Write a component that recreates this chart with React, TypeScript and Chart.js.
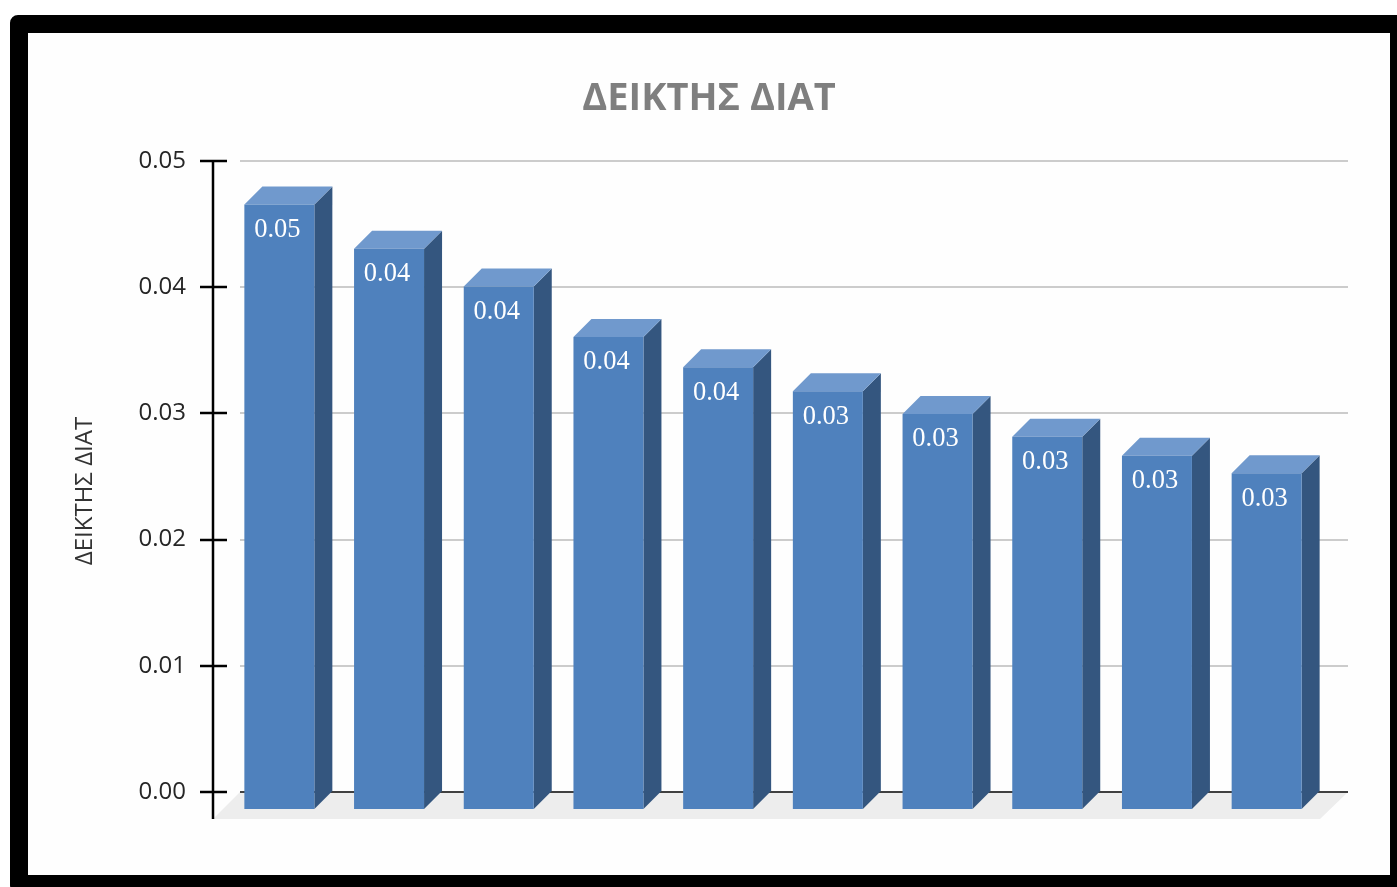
import React, { useEffect, useRef } from "react";
import { Chart, registerables } from "chart.js";

Chart.register(...registerables);

const categories = ["1", "2", "3", "4", "5", "6", "7", "8", "9", "10"];
const indexValues = [0.0479, 0.0444, 0.0414, 0.0374, 0.035, 0.0331, 0.0313, 0.0295, 0.028, 0.0266];
const tickValues = [0, 0.01, 0.02, 0.03, 0.04, 0.05];
const chartTitle = "ΔΕΙΚΤΗΣ ΔΙΑΤ";
const axisTitle = "ΔΕΙΚΤΗΣ ΔΙΑΤ";

const DEPTH = 18;
const SHIFT = 17;
const FONT = "'Open Sans', sans-serif";

const bars3d = {
  id: "bars3d",
  beforeDatasetsDraw(chart: any) {
    const { ctx } = chart;
    const y = chart.scales.y;
    const zero = y.getPixelForValue(0);
    ctx.save();
    // floor
    ctx.fillStyle = "#EDEDED";
    ctx.beginPath();
    ctx.moveTo(213, zero + 27);
    ctx.lineTo(1320, zero + 27);
    ctx.lineTo(1348, zero);
    ctx.lineTo(240, zero);
    ctx.closePath();
    ctx.fill();
    // wall grid lines
    tickValues.forEach((v) => {
      const py = Math.round(y.getPixelForValue(v));
      ctx.strokeStyle = v === 0 ? "#404040" : "#CCCCCC";
      ctx.lineWidth = 2;
      ctx.beginPath();
      ctx.moveTo(240, py);
      ctx.lineTo(1348, py);
      ctx.stroke();
      ctx.strokeStyle = "#000000";
      ctx.lineWidth = 2.5;
      ctx.beginPath();
      ctx.moveTo(200, py);
      ctx.lineTo(227, py);
      ctx.stroke();
    });
    // axis line
    ctx.strokeStyle = "#000000";
    ctx.lineWidth = 2.5;
    ctx.beginPath();
    ctx.moveTo(213, y.getPixelForValue(0.05) - 1);
    ctx.lineTo(213, zero + 27);
    ctx.stroke();
    // bar sides and tops
    chart.getDatasetMeta(0).data.forEach((bar: any) => {
      const x0 = bar.x - bar.width / 2;
      const x1 = bar.x + bar.width / 2;
      const yt = bar.y + SHIFT;
      const yb = bar.base + SHIFT;
      ctx.fillStyle = "#34567F";
      ctx.beginPath();
      ctx.moveTo(x1, yt);
      ctx.lineTo(x1 + DEPTH, yt - DEPTH);
      ctx.lineTo(x1 + DEPTH, yb - DEPTH);
      ctx.lineTo(x1, yb);
      ctx.closePath();
      ctx.fill();
      ctx.fillStyle = "#7099CD";
      ctx.beginPath();
      ctx.moveTo(x0, yt);
      ctx.lineTo(x1, yt);
      ctx.lineTo(x1 + DEPTH, yt - DEPTH);
      ctx.lineTo(x0 + DEPTH, yt - DEPTH);
      ctx.closePath();
      ctx.fill();
    });
    ctx.restore();
    ctx.save();
    ctx.translate(0, SHIFT);
  },
  afterDatasetsDraw(chart: any) {
    const { ctx } = chart;
    ctx.restore();
    ctx.save();
    ctx.fillStyle = "#FFFFFF";
    ctx.font = "26.5px 'Liberation Serif', serif";
    ctx.textAlign = "center";
    ctx.textBaseline = "middle";
    chart.getDatasetMeta(0).data.forEach((bar: any, i: number) => {
      ctx.fillText(indexValues[i].toFixed(2), bar.x - 2, bar.y + SHIFT + 25.5);
    });
    ctx.restore();
  },
};

export default function App() {
  const ref = useRef<HTMLCanvasElement>(null);
  useEffect(() => {
    const chart = new Chart(ref.current as HTMLCanvasElement, {
      type: "bar",
      data: {
        labels: categories,
        datasets: [
          {
            label: chartTitle,
            data: indexValues,
            backgroundColor: "#4F81BD",
            barPercentage: 0.638,
            categoryPercentage: 1,
            clip: false,
          } as any,
        ],
      },
      options: {
        animation: false,
        responsive: false,
        layout: { padding: { left: 96.5, right: 75.5, top: 0, bottom: 66 } },
        plugins: {
          legend: { display: false },
          tooltip: { enabled: false },
          title: {
            display: true,
            text: chartTitle,
            color: "#7F7F7F",
            font: { family: FONT, size: 38, weight: "bold", lineHeight: 1.2 },
            padding: { top: 76.2, bottom: 39.2 },
          },
        },
        scales: {
          x: { display: false },
          y: {
            min: -0.0022979,
            max: 0.05,
            border: { display: false },
            grid: { display: false },
            afterBuildTicks: (scale: any) => {
              scale.ticks = tickValues.map((value) => ({ value }));
            },
            afterFit: (scale: any) => {
              scale.width = 128;
            },
            ticks: {
              padding: 30.5,
              color: "#262626",
              font: { family: FONT, size: 24 },
              autoSkip: false,
              callback: (v: any) => Number(v).toFixed(2),
            },
            title: {
              display: true,
              text: axisTitle,
              color: "#333333",
              font: { family: FONT, size: 24, lineHeight: 1.2 },
              padding: { top: -26, bottom: 0 },
            },
          },
        },
      },
      plugins: [bars3d],
    } as any);
    return () => chart.destroy();
  }, []);

  return (
    <div style={{ position: "fixed", inset: 0, overflow: "hidden", background: "#FFFFFF" }}>
      <div
        style={{
          position: "absolute",
          left: 10,
          top: 15,
          width: 1362,
          height: 842,
          border: "18px solid #000000",
          borderRadius: 8,
          background: "#FEFEFE",
        }}
      />
      <canvas
        ref={ref}
        width={1397}
        height={887}
        style={{ position: "absolute", left: 0, top: 0, width: 1397, height: 887 }}
      />
    </div>
  );
}
